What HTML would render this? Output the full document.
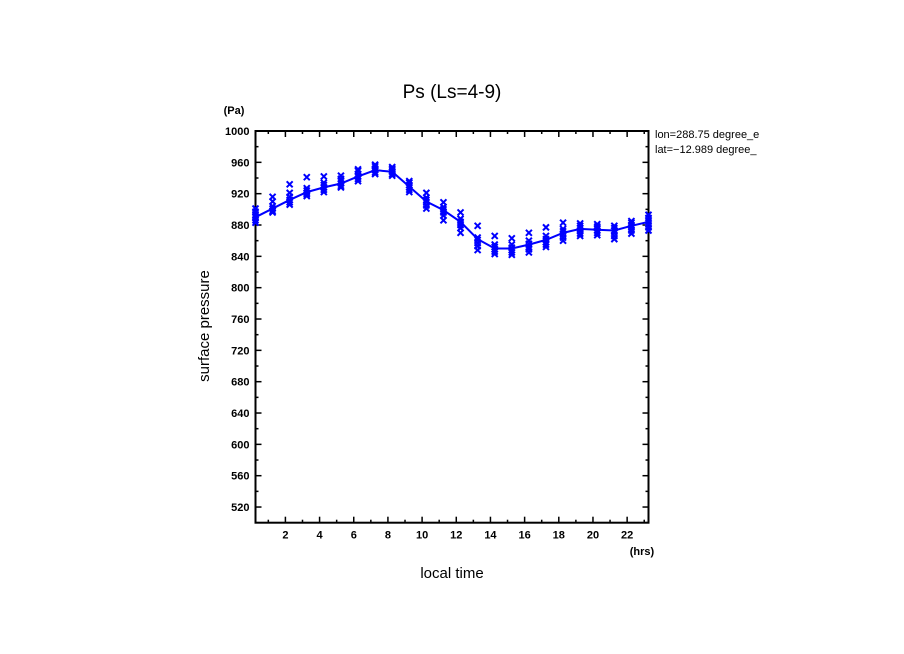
<!DOCTYPE html>
<html><head><meta charset="utf-8"><style>
html,body{margin:0;padding:0;background:#fff;}
svg{display:block;font-family:"Liberation Sans",sans-serif;}
</style></head><body>
<svg id="chart" width="904" height="654" viewBox="0 0 904 654">
<defs><clipPath id="infoclip"><rect x="650" y="120" width="130" height="40"/></clipPath></defs>
<text x="452" y="98" font-size="19" text-anchor="middle">Ps (Ls=4-9)</text>
<text x="234" y="114" font-size="11" font-weight="bold" text-anchor="middle">(Pa)</text>
<text x="209" y="326" font-size="15" text-anchor="middle" transform="rotate(-90 209 326)">surface pressure</text>
<text x="452" y="578" font-size="15" text-anchor="middle">local time</text>
<text x="642" y="555" font-size="11" font-weight="bold" text-anchor="middle">(hrs)</text>
<g clip-path="url(#infoclip)" font-size="11">
<text x="655" y="138">lon=288.75 degree_e</text>
<text x="655" y="153">lat=−12.989 degree_</text>
</g>
<g id="axes"></g>
<g id="marks"></g>
</svg>
<script>
const hours = [0.25,1.25,2.25,3.25,4.25,5.25,6.25,7.25,8.25,9.25,10.25,11.25,12.25,13.25,14.25,15.25,16.25,17.25,18.25,19.25,20.25,21.25,22.25,23.25];
const meanPs = [890,901,912,922,928,933,942,950,948,929,910,899,884,862,850,850,855,861,870,875,874,873,879,884];
const samplesPs = [
[883,886,890,893,897,901],
[896,898,901,904,910,916],
[906,909,912,916,921,932],
[917,919,921,924,927,941],
[922,925,928,931,934,942],
[928,930,933,936,939,943],
[936,939,942,945,949,951],
[945,947,950,952,955,957],
[943,945,948,950,952,954],
[922,925,928,931,934,936],
[901,905,909,912,915,921],
[886,892,896,900,903,909],
[870,876,880,884,888,896],
[848,853,857,861,864,879],
[843,846,849,852,855,866],
[842,845,848,851,855,863],
[845,849,852,856,860,870],
[852,855,858,862,866,877],
[860,864,868,872,875,883],
[866,869,873,876,879,882],
[867,870,873,876,878,881],
[862,866,870,873,876,879],
[869,873,877,880,883,885],
[873,877,881,885,889,893]
];
const yTicks = [520,560,600,640,680,720,760,800,840,880,920,960,1000];
const xTicks = [2,4,6,8,10,12,14,16,18,20,22];

const L=255.5,R=648.5,T=131,B=522.7;
const xMin=0.25,xMax=23.25,yMin=500,yMax=1000;
const sx=v=>L+(v-xMin)/(xMax-xMin)*(R-L);
const sy=v=>B-(v-yMin)/(yMax-yMin)*(B-T);
const NS="http://www.w3.org/2000/svg";
function mk(tag,attrs,parent){const e=document.createElementNS(NS,tag);for(const k in attrs)e.setAttribute(k,attrs[k]);parent.appendChild(e);return e;}
const ax=document.getElementById('axes'), mg=document.getElementById('marks');

const frame=mk('rect',{x:L,y:T,width:R-L,height:B-T,fill:'none',stroke:'#000','stroke-width':2},ax);



for(let v=yMin; v<=yMax; v+=20){
  const y=sy(v), major=(v%40===0);
  const len=major?6:3;
  mk('line',{x1:L,x2:L+len,y1:y,y2:y,stroke:'#000','stroke-width':1.5},ax);
  mk('line',{x1:R,x2:R-len,y1:y,y2:y,stroke:'#000','stroke-width':1.5},ax);
}
yTicks.forEach(v=>{
  const t=mk('text',{x:L-6,y:sy(v)+4,'font-size':11,'font-weight':'bold','text-anchor':'end'},ax);
  t.textContent=v;
  
  
});
for(let h=1; h<=23; h++){
  const x=sx(h), major=(h%2===0);
  const len=major?6:3;
  mk('line',{x1:x,x2:x,y1:B,y2:B-len,stroke:'#000','stroke-width':1.5},ax);
  mk('line',{x1:x,x2:x,y1:T,y2:T+len,stroke:'#000','stroke-width':1.5},ax);
}
xTicks.forEach(v=>{
  const t=mk('text',{x:sx(v),y:B+16,'font-size':11,'font-weight':'bold','text-anchor':'middle'},ax);
  t.textContent=v;
  
  
});

const blue='#0000ff';
samplesPs.forEach((arr,i)=>{
  arr.forEach(v=>{
    const x=sx(hours[i]), y=sy(v), s=3;
    const p=mk('path',{d:`M${x-s},${y-s}L${x+s},${y+s}M${x-s},${y+s}L${x+s},${y-s}`,stroke:blue,'stroke-width':2},mg);
    
    
  });
});
const line=mk('polyline',{points:meanPs.map((v,i)=>sx(hours[i])+','+sy(v)).join(' '),fill:'none',stroke:blue,'stroke-width':2},mg);


</script>
</body></html>
